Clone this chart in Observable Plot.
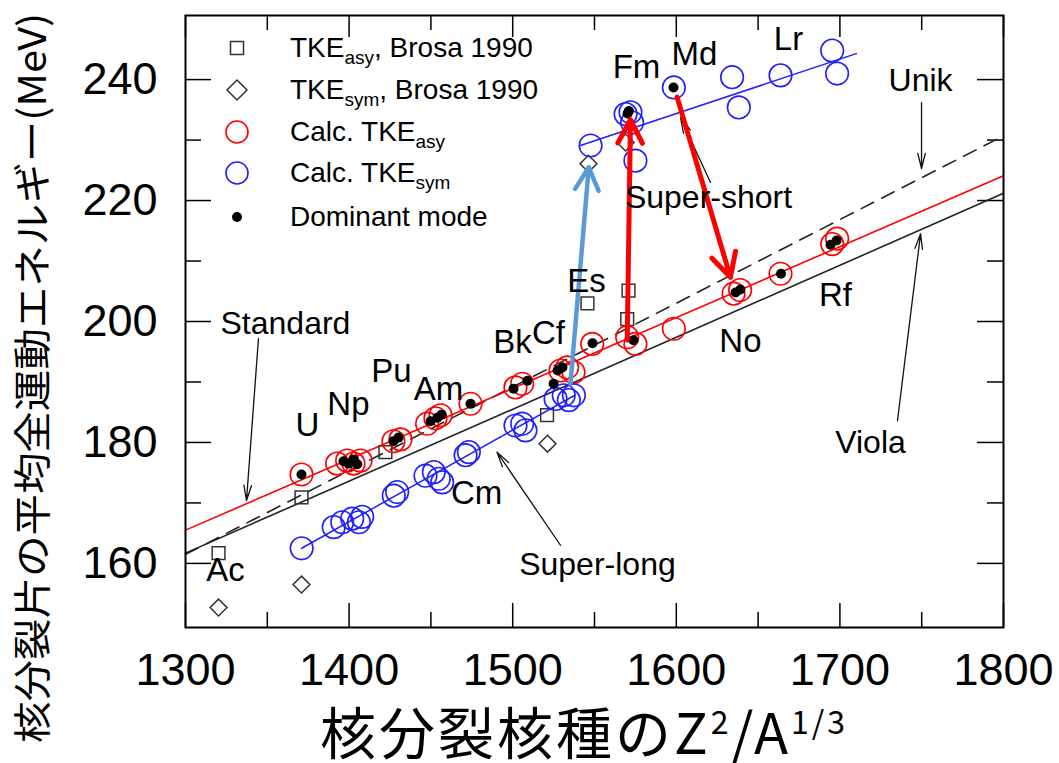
<!DOCTYPE html>
<html><head><meta charset="utf-8">
<script src="https://cdn.jsdelivr.net/npm/d3@7"></script>
<script src="https://cdn.jsdelivr.net/npm/@observablehq/plot@0.6"></script>
<style>body{margin:0;background:#fff}#chart{width:1059px;height:763px}</style>
</head><body><div id="chart"></div>
<script>
// ---------- data ----------
const xTickLabels = [1300, 1400, 1500, 1600, 1700, 1800];
const xMinorTicks = [1350, 1450, 1550, 1650, 1750];
const yTickLabels = [160, 180, 200, 220, 240];
const yMinorTicks = [170, 190, 210, 230];

// Calc. TKE_asy (red open circles)
const calcAsy = [[1370.9,174.7],[1392.7,176.5],[1398.8,177.0],[1402.7,176.5],[1407,177.0],[1427.1,180.2],[1431.4,180.5],
  [1447.7,183.1],[1452.8,184.0],[1455.9,184.5],[1474.2,186.4],[1501.7,189.1],[1505.8,189.7],[1529.2,191.9],[1533.3,192.4],
  [1537.2,191.6],[1548.6,196.3],[1570,197.4],[1575,196.3],[1598.5,198.8],[1635,204.6],[1639,205.2],[1663.7,207.9],
  [1695.3,212.8],[1698.3,213.7]];
// Calc. TKE_sym (blue open circles)
const calcSym = [[1371,162.5],[1390.6,166.0],[1395.8,166.8],[1401.9,167.4],[1406,166.8],[1408,167.7],[1427.3,171.2],
  [1429.4,171.8],[1446.7,174.5],[1451.8,175.1],[1454.8,174.0],[1456.9,173.4],[1471.2,177.9],[1473.2,178.4],[1501.7,182.8],
  [1505.8,183.1],[1507.8,182.0],[1526.2,187.2],[1531.2,187.8],[1534.3,187.0],[1537.4,187.8],
  [1547.6,229.1],[1569,234.3],[1572,234.6],[1573,232.9],[1575,226.6],[1598.5,238.7],[1634.1,240.4],[1638.2,235.4],
  [1663.7,240.7],[1695.3,244.8],[1698.3,241.0]];
// Dominant mode (black dots)
const dominant = [[1370.9,174.7],[1396.6,176.9],[1399.6,176.5],[1402.7,177.2],[1405,176.4],[1427.1,180.2],[1430.2,180.8],
  [1449.8,183.5],[1454,184.1],[1456.5,184.6],[1474.2,186.4],[1500.5,188.9],[1509,190.2],[1525,189.7],[1527.4,191.9],
  [1530.4,192.4],[1548.8,196.4],[1573.8,196.9],[1570.2,234.4],[1571,234.8],[1598.3,238.7],[1636.2,204.8],[1639.2,205.3],
  [1664,207.9],[1694.3,212.7],[1698,213.4]];
// Brosa 1990
const brosaAsy = [[1320.2,161.7],[1370.9,170.9],[1422.2,178.4],[1521,184.5],[1545.7,203.0],[1570.8,205.1],[1570,200.4]];
const brosaSym = [[1320.2,152.7],[1370.9,156.5],[1521.3,179.8],[1546.3,226.1],[1569,229.6]];

// Fit lines
const violaLine = [[1300,161.7],[1800,221.2]];
const unikLine = [[1300,161.5],[1800,230.7]];
const calcAsyLine = [[1300,165.5],[1800,224.1]];
const calcSymLowLine = [[1371,162.5],[1538,187.8]];
const calcSymHighLine = [[1541.4,229.1],[1710,244.3]];

// Annotation arrows [x1,y1,x2,y2]
const blackArrows = [[1344.6,197.2,1337.3,170.4],[1749.9,236.2,1749.9,225.3],[1735.2,183.6,1749.3,214.5],
  [1529.2,163.0,1490.4,178.4],[1620.9,223.0,1602.6,233.7]];
const blueArrow = [[1535.3,189.7,1546.5,225.5]];
const redArrows = [[1570,196.9,1572,233.4],[1600.5,237.1,1633.1,207.3]];

// Labels
const elementLabels = [["Ac",1324.4,158.8],["U",1374.6,182.8],["Np",1399.6,186.3],["Pu",1425.9,191.7],["Am",1454.6,188.8],
  ["Cm",1477.9,171.6],["Bk",1499.9,196.5],["Cf",1521.9,198.0],["Es",1545.1,206.6],["Fm",1575.7,242.0],["Md",1611.1,244.1],
  ["Lr",1668.6,246.6],["No",1639.2,196.7],["Rf",1697.3,204.3]];
const noteLabels = [["Standard",1361.1,199.7],["Unik",1749.3,239.8],["Viola",1718.7,180.0],["Super-long",1551.8,159.7],
  ["Super-short",1619.7,220.5]];

// ---------- chart ----------
const W = 1059, H = 763, mL = 185, mR = 56, mT = 15, mB = 136;
const iH = H - mT - mB, iW = W - mL - mR;
const X = d => d[0], Y = d => d[1];
const RED = "#ff0000", BLUE = "#2020ff";

const plot = Plot.plot({
  width: W, height: H, marginLeft: mL, marginRight: mR, marginTop: mT, marginBottom: mB,
  style: {fontFamily: "'Liberation Sans', Arial, sans-serif", background: "#fff", color: "#000"},
  x: {domain: [1300, 1800], label: null},
  y: {domain: [149.4, 250.6], label: null},
  marks: [
    Plot.axisX({ticks: xTickLabels, anchor: "bottom", tickSize: 0, tickPadding: 26, fontSize: 45, tickFormat: d => String(d), label: null}),
    Plot.axisY({ticks: yTickLabels, anchor: "left", tickSize: 0, tickPadding: 28, fontSize: 45, tickFormat: d => String(d), label: null}),
    // inward ticks
    Plot.ruleX(xTickLabels, {x: d => d, insetTop: iH - 24, stroke: "#000", strokeWidth: 1.5}),
    Plot.ruleX(xMinorTicks, {x: d => d, insetTop: iH - 15, stroke: "#000", strokeWidth: 1.5}),
    Plot.ruleX(xTickLabels, {x: d => d, insetBottom: iH - 22, stroke: "#000", strokeWidth: 1.5}),
    Plot.ruleX(xMinorTicks, {x: d => d, insetBottom: iH - 15, stroke: "#000", strokeWidth: 1.5}),
    Plot.ruleY(yTickLabels, {y: d => d, insetRight: iW - 26, stroke: "#000", strokeWidth: 1.5}),
    Plot.ruleY(yMinorTicks, {y: d => d, insetRight: iW - 16, stroke: "#000", strokeWidth: 1.5}),
    Plot.ruleY(yTickLabels, {y: d => d, insetLeft: iW - 26, stroke: "#000", strokeWidth: 1.5}),
    Plot.ruleY(yMinorTicks, {y: d => d, insetLeft: iW - 16, stroke: "#000", strokeWidth: 1.5}),
    // fit lines
    Plot.line(violaLine, {x: X, y: Y, stroke: "#222", strokeWidth: 1.6}),
    Plot.line(unikLine, {x: X, y: Y, stroke: "#222", strokeWidth: 1.6, strokeDasharray: "14,9"}),
    Plot.line(calcAsyLine, {x: X, y: Y, stroke: RED, strokeWidth: 1.6}),
    Plot.line(calcSymLowLine, {x: X, y: Y, stroke: BLUE, strokeWidth: 1.5}),
    Plot.line(calcSymHighLine, {x: X, y: Y, stroke: BLUE, strokeWidth: 1.5}),
    // Brosa markers
    Plot.dot(brosaAsy, {x: X, y: Y, symbol: "square", r: 7.2, stroke: "#333", strokeWidth: 1.5, fill: "none"}),
    Plot.dot(brosaSym, {x: X, y: Y, symbol: "diamond2", r: 7.6, stroke: "#333", strokeWidth: 1.5, fill: "none"}),
    // calc circles
    Plot.dot(calcAsy, {x: X, y: Y, r: 11.3, stroke: RED, strokeWidth: 1.6, fill: "none"}),
    Plot.dot(calcSym, {x: X, y: Y, r: 11.3, stroke: BLUE, strokeWidth: 1.6, fill: "none"}),
    Plot.dot(dominant, {x: X, y: Y, r: 5, fill: "#000", stroke: "none"}),
    // arrows
    Plot.arrow(blackArrows, {x1: d => d[0], y1: d => d[1], x2: d => d[2], y2: d => d[3], stroke: "#111", strokeWidth: 1.3, headLength: 18, headAngle: 28}),
    Plot.arrow(blueArrow, {x1: d => d[0], y1: d => d[1], x2: d => d[2], y2: d => d[3], stroke: "#5b9bd5", strokeWidth: 4.5, headLength: 8.5, headAngle: 55}),
    Plot.arrow(redArrows, {x1: d => d[0], y1: d => d[1], x2: d => d[2], y2: d => d[3], stroke: RED, strokeWidth: 5, headLength: 8, headAngle: 55}),
    // labels
    Plot.text(elementLabels, {x: d => d[1], y: d => d[2], text: d => d[0], fontSize: 33, fill: "#000"}),
    Plot.text(noteLabels, {x: d => d[1], y: d => d[2], text: d => d[0], fontSize: 32, fill: "#000"}),
    Plot.frame({stroke: "#000", strokeWidth: 2})
  ]
});
document.getElementById("chart").appendChild(plot);

// ---------- legend & titles ----------
const svg = d3.select(plot);
const lg = svg.append("g").attr("font-family", "'Liberation Sans', Arial, sans-serif").attr("font-size", 28).attr("text-anchor", "start");
const legendRows = [
  {sym: "square", main: "TKE", sub: "asy", tail: ", Brosa 1990"},
  {sym: "diamond", main: "TKE", sub: "sym", tail: ", Brosa 1990"},
  {sym: "red", main: "Calc. TKE", sub: "asy", tail: ""},
  {sym: "blue", main: "Calc. TKE", sub: "sym", tail: ""},
  {sym: "dot", main: "Dominant mode", sub: "", tail: ""}
];
const rowY = [48, 90, 132, 173, 217];
legendRows.forEach((r, i) => {
  const cy = rowY[i], cx = 237;
  if (r.sym === "square") lg.append("rect").attr("x", cx - 6.5).attr("y", cy - 6.5).attr("width", 13).attr("height", 13).attr("fill", "none").attr("stroke", "#333").attr("stroke-width", 1.5);
  if (r.sym === "diamond") lg.append("path").attr("d", `M${cx},${cy-10}L${cx+10},${cy}L${cx},${cy+10}L${cx-10},${cy}Z`).attr("fill", "none").attr("stroke", "#333").attr("stroke-width", 1.5);
  if (r.sym === "red") lg.append("circle").attr("cx", cx).attr("cy", cy).attr("r", 11).attr("fill", "none").attr("stroke", RED).attr("stroke-width", 1.6);
  if (r.sym === "blue") lg.append("circle").attr("cx", cx).attr("cy", cy).attr("r", 11).attr("fill", "none").attr("stroke", BLUE).attr("stroke-width", 1.6);
  if (r.sym === "dot") lg.append("circle").attr("cx", cx).attr("cy", cy).attr("r", 5).attr("fill", "#000");
  const t = lg.append("text").attr("x", 290).attr("y", cy + 9).attr("fill", "#000");
  t.append("tspan").text(r.main);
  if (r.sub) t.append("tspan").attr("font-size", 19).attr("dy", 7).text(r.sub);
  if (r.tail) t.append("tspan").attr("dy", -7).text(r.tail);
});

// x title
const xt = svg.append("text").attr("x", 584).attr("y", 754).attr("text-anchor", "middle").attr("letter-spacing", 3)
  .attr("font-family", "'Noto Sans CJK JP', 'Liberation Sans', sans-serif").attr("font-size", 56).attr("fill", "#000");
xt.append("tspan").text("核分裂核種のZ");
xt.append("tspan").attr("font-size", 32).attr("dy", -20).text("2");
xt.append("tspan").attr("dy", 20).text("/A");
xt.append("tspan").attr("font-size", 32).attr("dy", -20).text("1/3");

// y title
svg.append("text").attr("transform", "translate(46,378) rotate(-90)").attr("text-anchor", "middle")
  .attr("font-family", "'Noto Sans CJK JP', 'Liberation Sans', sans-serif").attr("font-size", 38).attr("fill", "#000")
  .attr("textLength", 730).attr("lengthAdjust", "spacingAndGlyphs")
  .text("核分裂片の平均全運動エネルギー(MeV)");
</script>
</body></html>
